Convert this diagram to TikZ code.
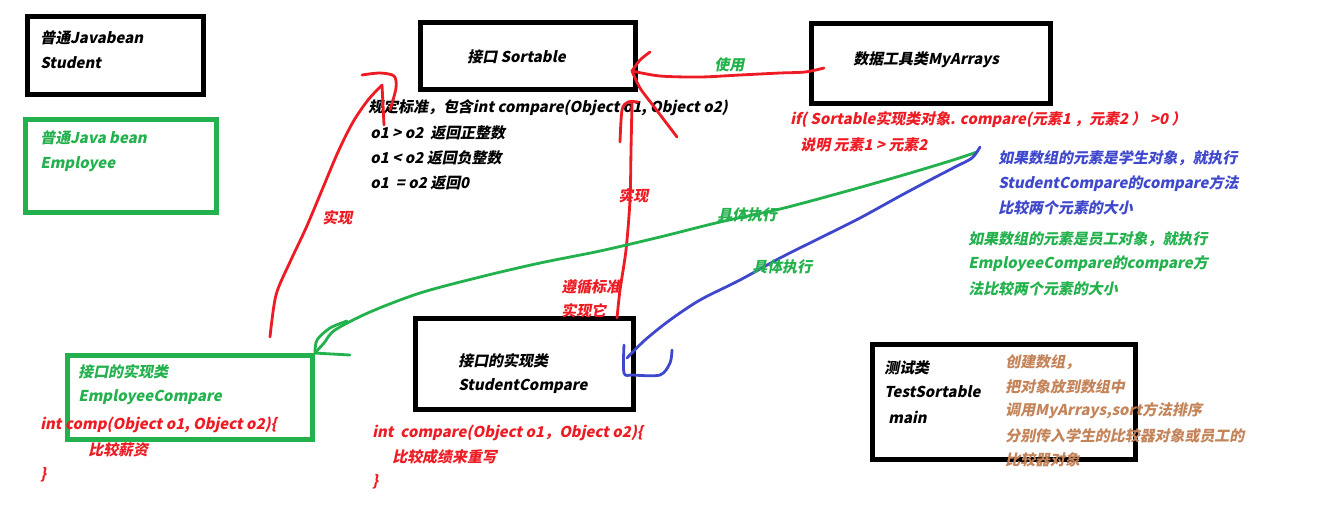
\documentclass[tikz,border=0pt]{standalone}
\usepackage{fontspec}
\newfontfamily\dgfont{Noto Sans CJK SC}[FakeSlant=0.2]
\usetikzlibrary{positioning}
\definecolor{pgreen}{HTML}{22B14C}
\definecolor{pred}{HTML}{ED1C24}
\definecolor{pblue}{HTML}{3F48CC}
\definecolor{pbrown}{HTML}{C4845A}

\tikzset{
  blackbox/.style={draw=black, line width=2.8pt, inner sep=0pt},
  greenbox/.style={draw=pgreen, line width=2.8pt, inner sep=0pt},
  txt/.style={anchor=west, inner sep=0pt, font=\dgfont\bfseries\fontsize{8.5}{10}\selectfont},
  txtred/.style={txt, text=pred},
  txtgreen/.style={txt, text=pgreen},
  txtblue/.style={txt, text=pblue},
  txtbrown/.style={txt, text=pbrown},
  pen/.style={line width=1.6pt, line cap=round, line join=round},
  redpen/.style={pen, draw=pred},
  greenpen/.style={pen, draw=pgreen},
  bluepen/.style={pen, draw=pblue}
}

\begin{document}
\begin{tikzpicture}[x=0.02cm, y=-0.02cm]
  \useasboundingbox (0,0) rectangle (1321,515);

  % boxes
  \node[blackbox, minimum width=3.52cm, minimum height=1.56cm] (student) at (115.5,55.5) {};
  \node[greenbox, minimum width=3.82cm, minimum height=1.86cm] (employee) at (121,166) {};
  \node[blackbox, minimum width=4.3cm, minimum height=1.34cm] (sortable) at (528,56) {};
  \node[blackbox, minimum width=4.78cm, minimum height=1.6cm] (myarrays) at (931,63.5) {};
  \node[greenbox, minimum width=4.9cm, minimum height=1.68cm] (empcmp) at (190,397.5) {};
  \node[blackbox, minimum width=4.36cm, minimum height=1.82cm] (stucmp) at (524.5,364) {};
  \node[blackbox, minimum width=5.26cm, minimum height=2.3cm] (testsort) at (1004,402) {};

  % texts in the boxes
  \node[txt] (studentA) at (40,38) {普通Javabean};
  \node[txt] (studentB) at (40,63) {Student};
  \node[txtgreen] (employeeA) at (40,138) {普通Java bean};
  \node[txtgreen] (employeeB) at (40,164) {Employee};
  \node[txt] (sortableA) at (467,57) {接口 Sortable};
  \node[txt] (myarraysA) at (853,60) {数据工具类MyArrays};
  \node[txtgreen] (empcmpA) at (78,372) {接口的实现类};
  \node[txtgreen] (empcmpB) at (78,397) {EmployeeCompare};
  \node[txt] (stucmpA) at (458,361) {接口的实现类};
  \node[txt] (stucmpB) at (458,386) {StudentCompare};
  \node[txt] (testsortA) at (884,368) {测试类};
  \node[txt] (testsortB) at (884,392) {TestSortable};
  \node[txt] (testsortC) at (888,417) {main};

  % notes
  \node[txt] (ruleA) at (368,108) {规定标准，包含int compare(Object o1, Object o2)};
  \node[txt] (ruleB) at (370,133) {o1 > o2\ \ 返回正整数};
  \node[txt] (ruleC) at (370,158) {o1 < o2 返回负整数};
  \node[txt] (ruleD) at (370,183) {o1\ \ = o2 返回0};
  \node[txtred] (ifA) at (790,120) {if( Sortable实现类对象. compare(元素1 ，元素2 ） >0 ）};
  \node[txtred] (ifB) at (800,145) {说明 元素1 > 元素2};
  \node[txtblue] (stuNoteA) at (998,158) {如果数组的元素是学生对象，就执行};
  \node[txtblue] (stuNoteB) at (998,184) {StudentCompare的compare方法};
  \node[txtblue] (stuNoteC) at (998,208) {比较两个元素的大小};
  \node[txtgreen] (empNoteA) at (968,239) {如果数组的元素是员工对象，就执行};
  \node[txtgreen] (empNoteB) at (968,264) {EmployeeCompare的compare方};
  \node[txtgreen] (empNoteC) at (968,289) {法比较两个元素的大小};
  \node[txtred] (empCodeA) at (40,425) {int comp(Object o1, Object o2)\{};
  \node[txtred] (empCodeB) at (88,450) {比较薪资};
  \node[txtred] (empCodeC) at (40,475) {\}};
  \node[txtred] (stuCodeA) at (372,433) {int\ \ compare(Object o1，Object o2)\{};
  \node[txtred] (stuCodeB) at (392,457) {比较成绩来重写};
  \node[txtred] (stuCodeC) at (372,482) {\}};
  \node[txtbrown] (testA) at (1005,362) {创建数组，};
  \node[txtbrown] (testB) at (1005,387) {把对象放到数组中};
  \node[txtbrown] (testC) at (1005,411) {调用MyArrays,sort方法排序};
  \node[txtbrown] (testD) at (1005,436) {分别传入学生的比较器对象或员工的};
  \node[txtbrown] (testE) at (1005,460) {比较器对象};

  % connector ends
  \coordinate (empImpl) at (270,337);
  \coordinate (sortTipL) at (382,85);
  \coordinate (stuImpl) at (617,318);
  \coordinate (sortTipB) at (632,102);
  \coordinate (useStart) at (824,68);
  \coordinate (useTip) at (632,71);
  \coordinate (greenEnd) at (977,152);
  \coordinate (blueEnd) at (980,147);
  \coordinate (blueTip) at (627,358);

  % red: EmployeeCompare implements Sortable
  \draw[redpen] plot[smooth] coordinates {(empImpl) (276,295) (290,262) (306,228)
    (322,190) (338,152) (353,122) (368,100) (sortTipL)};
  \draw[redpen] (sortTipL) -- ++(2,40);
  \draw[redpen] plot[smooth] coordinates {(362,75) (380,73) (394,76) (396,88) (390,110)};
  \node[txtred] (implA) at (322,218) {实现};

  % red: StudentCompare implements Sortable
  \draw[redpen] plot[smooth] coordinates {(stuImpl) (620,290) (626,250) (630,200)
    (631,150) (sortTipB)};
  \draw[redpen] plot[smooth] coordinates {(620,142) (622,110) (628,102) (638,102)};
  \node[txtred] (implB) at (618,196) {实现};
  \node[txtred] (followA) at (561,287) {遵循标准};
  \node[txtred] (followB) at (561,311) {实现它};

  % red: MyArrays uses Sortable
  \draw[redpen] plot[smooth] coordinates {(useStart) (805,72) (780,73) (740,75)
    (700,77) (660,76) (useTip)};
  \draw[redpen] plot[smooth] coordinates {(650,52) (640,60) (useTip)};
  \draw[redpen] plot[smooth] coordinates {(useTip) (640,88) (655,108) (677,137)};
  \node[txtgreen] (useLabel) at (714,65) {使用};

  % green: execute EmployeeCompare
  \draw[greenpen] plot[smooth] coordinates {(greenEnd) (950,161) (900,176) (840,193)
    (780,209) (720,222) (660,237) (600,251) (540,263) (480,277)
    (420,293) (370,312) (335,330) (324,343) (empcmp.north east)};
  \draw[greenpen] plot[smooth] coordinates {(347,321) (330,328) (317,340) (empcmp.north east)};
  \draw[greenpen] (empcmp.north east) -- (350,355);
  \node[txtgreen] (execA) at (717,215) {具体执行};

  % blue: execute StudentCompare
  \draw[bluepen] plot[smooth] coordinates {(blueEnd) (972,158) (955,167) (930,180)
    (900,196) (860,218) (820,238) (780,258) (740,280) (700,300) (670,320)
    (645,340) (blueTip)};
  \draw[bluepen] plot[smooth] coordinates {(624,345) (624,373) (633,375) (660,375)
    (670,363) (672,350)};
  \node[txtgreen] (execB) at (752,267) {具体执行};
\end{tikzpicture}
\end{document}
